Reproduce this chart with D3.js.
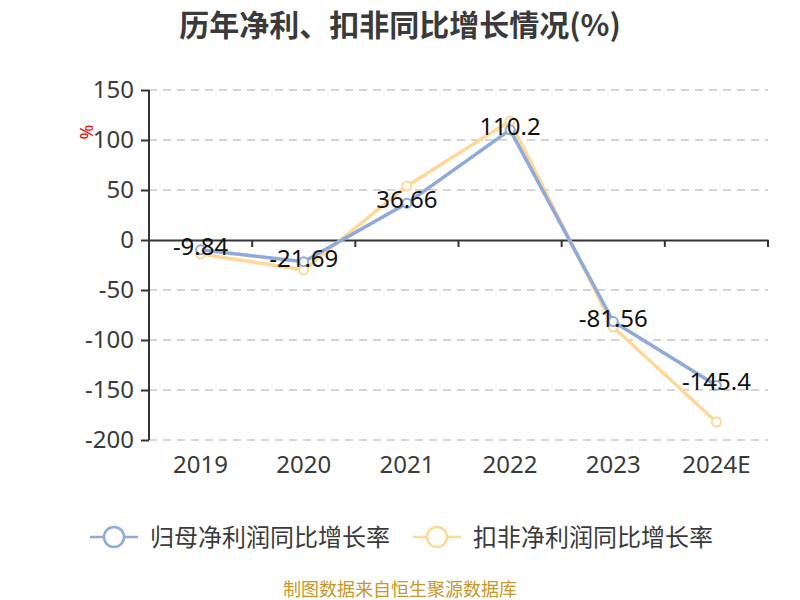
<!DOCTYPE html>
<html>
<head>
<meta charset="utf-8">
<script src="https://cdn.jsdelivr.net/npm/d3@7"></script>
<style>
  body { margin: 0; background: #fff; }
  text { font-family: "Noto Sans", "Noto Sans CJK SC", sans-serif; }
</style>
</head>
<body>
<div class="chart"></div>
<script>
// chart data
var years = ["2019", "2020", "2021", "2022", "2023", "2024E"];
var parentGrowth = [-9.84, -21.69, 36.66, 110.2, -81.56, -145.4];
var deductedGrowth = [-14, -30, 54, 119, -87, -182];
var yTicks = [150, 100, 50, 0, -50, -100, -150, -200];
var seriesNames = ["归母净利润同比增长率", "扣非净利润同比增长率"];
var seriesColors = ["#8eaadb", "#ffd797"];

var svgWidth = 800, svgHeight = 600;
var margin = {top: 90, right: 32, bottom: 160, left: 149};
var width = svgWidth - margin.left - margin.right,
    height = svgHeight - margin.top - margin.bottom;

var svg = d3.select(".chart")
    .append("svg")
    .attr("width", svgWidth)
    .attr("height", svgHeight);

// title
svg.append("text")
    .attr("x", 400)
    .attr("y", 36)
    .attr("text-anchor", "middle")
    .style("font-family", "'Noto Sans CJK SC', sans-serif")
    .style("font-size", "30px")
    .style("font-weight", "bold")
    .attr("fill", "#3a3a3a")
    .text("历年净利、扣非同比增长情况(%)");

var chart = svg.append("g")
    .attr("transform", "translate(" + margin.left + "," + margin.top + ")");

var x = d3.scaleBand().domain(years).range([0, width]);
var y = d3.scaleLinear().domain([-200, 150]).range([height, 0]);

// grid lines
chart.append("g")
    .selectAll("line")
    .data(yTicks.filter(function(d) { return d !== 0; }))
    .enter().append("line")
    .attr("x1", 0)
    .attr("x2", width)
    .attr("y1", function(d) { return y(d); })
    .attr("y2", function(d) { return y(d); })
    .attr("stroke", "#c8c8c8")
    .attr("stroke-width", 1.5)
    .attr("stroke-dasharray", "8,6");

// y axis
var yAxis = d3.axisLeft(y).tickValues(yTicks).tickSize(8).tickPadding(7);
var gy = chart.append("g").call(yAxis);
gy.select(".domain").attr("stroke", "#333").attr("stroke-width", 2).attr("d", "M0," + y(150) + "V" + y(-200));
gy.selectAll(".tick line").attr("stroke", "#333").attr("stroke-width", 2);
gy.selectAll(".tick text")
    .style("font-size", "24px")
    .attr("fill", "#3a3a3a")
    .text(function(d) { return d < 0 ? "-" + Math.abs(d) : d; });

// x axis at zero
var xAxis = d3.axisBottom(x).tickSize(0).tickFormat("");
var gx = chart.append("g")
    .attr("transform", "translate(0," + y(0) + ")")
    .call(xAxis);
gx.select(".domain").attr("stroke", "#333").attr("stroke-width", 2);
gx.selectAll(".tick").remove();
gx.selectAll(".bt")
    .data(d3.range(years.length + 1))
    .enter().append("line")
    .attr("class", "bt")
    .attr("x1", function(i) { return i * x.step(); })
    .attr("x2", function(i) { return i * x.step(); })
    .attr("y1", 0)
    .attr("y2", 7)
    .attr("stroke", "#333")
    .attr("stroke-width", 2);

// category labels at bottom
chart.append("g")
    .selectAll("text")
    .data(years)
    .enter().append("text")
    .attr("x", function(d) { return x(d) + x.bandwidth() / 2; })
    .attr("y", height + 33)
    .attr("text-anchor", "middle")
    .style("font-size", "24px")
    .attr("fill", "#3a3a3a")
    .text(function(d) { return d; });

// unit label
svg.append("text")
    .attr("transform", "translate(93,132) rotate(-90)")
    .attr("text-anchor", "middle")
    .style("font-size", "18px")
    .attr("fill", "#e00")
    .text("%");

// lines
var line = d3.line()
    .x(function(d, i) { return x(years[i]) + x.bandwidth() / 2; })
    .y(function(d) { return y(d); });

[deductedGrowth, parentGrowth].forEach(function(vals, k) {
    var color = k === 0 ? seriesColors[1] : seriesColors[0];
    chart.append("path")
        .datum(vals)
        .attr("fill", "none")
        .attr("stroke", color)
        .attr("stroke-width", 3.5)
        .attr("d", line);
    chart.append("g")
        .selectAll("circle")
        .data(vals)
        .enter().append("circle")
        .attr("cx", function(d, i) { return x(years[i]) + x.bandwidth() / 2; })
        .attr("cy", function(d) { return y(d); })
        .attr("r", 4.5)
        .attr("fill", "#fff")
        .attr("stroke", color)
        .attr("stroke-width", 2);
});

// value labels (parent series)
chart.append("g")
    .selectAll("text")
    .data(parentGrowth)
    .enter().append("text")
    .attr("x", function(d, i) { return x(years[i]) + x.bandwidth() / 2; })
    .attr("y", function(d) { return y(d) + 5; })
    .attr("text-anchor", "middle")
    .style("font-size", "24px")
    .attr("fill", "#111")
    .text(function(d) { return d; });

// legend
var legendX = [90, 413];
seriesNames.forEach(function(name, i) {
    var g = svg.append("g").attr("transform", "translate(" + legendX[i] + ",537)");
    g.append("line").attr("x1", 0).attr("x2", 48).attr("y1", 0).attr("y2", 0)
        .attr("stroke", seriesColors[i]).attr("stroke-width", 2.5);
    g.append("circle").attr("cx", 24).attr("cy", 0).attr("r", 10)
        .attr("fill", "#fff").attr("stroke", seriesColors[i]).attr("stroke-width", 2.5);
    g.append("text").attr("x", 60).attr("y", 9)
        .style("font-family", "'Noto Sans CJK SC', sans-serif")
        .style("font-size", "24px")
        .attr("fill", "#3a3a3a")
        .text(name);
});

// source note
svg.append("text")
    .attr("x", 400)
    .attr("y", 596)
    .attr("text-anchor", "middle")
    .style("font-family", "'Noto Sans CJK SC', sans-serif")
    .style("font-size", "18px")
    .attr("fill", "#c8962a")
    .text("制图数据来自恒生聚源数据库");
</script>
</body>
</html>
